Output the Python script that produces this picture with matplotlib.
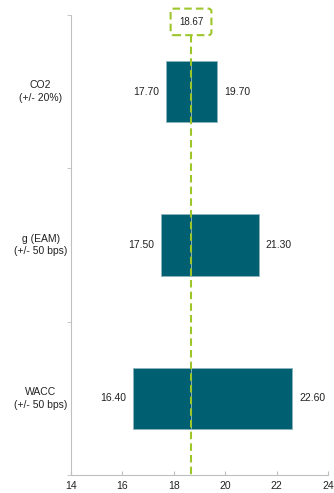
import matplotlib.pyplot as plt

plt.rcParams['font.family'] = ['Liberation Sans', 'DejaVu Sans']

######data####################################################################

drivers = ['CO2\n(+/- 20%)', 'g (EAM)\n(+/- 50 bps)', 'WACC\n(+/- 50 bps)']
low = [17.70, 17.50, 16.40]
high = [19.70, 21.30, 22.60]
base = 18.67

teal = '#005F71'
green = '#9DC62B'
grey = '#BFBFBF'

######tornado#################################################################

fig = plt.figure(figsize=(3.34, 4.93), dpi=100)
ax = fig.add_axes([0.2126, 0.0365, 0.7694, 0.9331])

ypos = list(range(len(drivers)))
for i in ypos:
    # left half runs from the low case up to the base case, right half on to the high case
    ax.barh(i, base - low[i], left=low[i], height=0.4, color=teal,
            edgecolor='#8FB3BE', linewidth=0.6, zorder=2)
    ax.barh(i, high[i] - base, left=base, height=0.4, color=teal,
            edgecolor='#8FB3BE', linewidth=0.6, zorder=2)
    ax.annotate('%.2f' % low[i], (low[i], i), xytext=(-5, 0), textcoords='offset points',
                ha='right', va='center', fontsize=7.5, color='#222222')
    ax.annotate('%.2f' % high[i], (high[i], i), xytext=(5, 0), textcoords='offset points',
                ha='left', va='center', fontsize=7.5, color='#222222')
    ax.text(-0.118, i, drivers[i], transform=ax.get_yaxis_transform(),
            ha='center', va='center', fontsize=7.5, color='#222222', linespacing=1.35)

ax.set_xlim(14, 24)
ax.set_ylim(2.5, -0.5)

# base case marker
dash = (0, (3.6, 2))
ax.vlines(base, -0.37, 2.5, colors=green, linewidth=1.5,
          linestyles=dash, zorder=3)
ax.text(base, -0.455, '%.2f' % base, ha='center', va='center', fontsize=7,
        color='#222222', clip_on=False, zorder=4,
        bbox=dict(boxstyle='round,pad=0.85,rounding_size=0.3', facecolor='white',
                  edgecolor=green, linewidth=1.5, linestyle=dash))

######axes styling############################################################

for side in ['top', 'right']:
    ax.spines[side].set_visible(False)
for side in ['left', 'bottom']:
    ax.spines[side].set_color(grey)
    ax.spines[side].set_linewidth(0.8)

ax.set_xticks([14, 16, 18, 20, 22, 24])
ax.tick_params(axis='x', direction='in', length=3, color=grey, labelsize=7.5,
               labelcolor='#222222', pad=4)
ax.set_yticks([])
ax.set_yticks([-0.5, 0.5, 1.5, 2.5], minor=True)
ax.tick_params(axis='y', which='minor', direction='out', length=3, color=grey)

fig.savefig('out.png', dpi=100)
